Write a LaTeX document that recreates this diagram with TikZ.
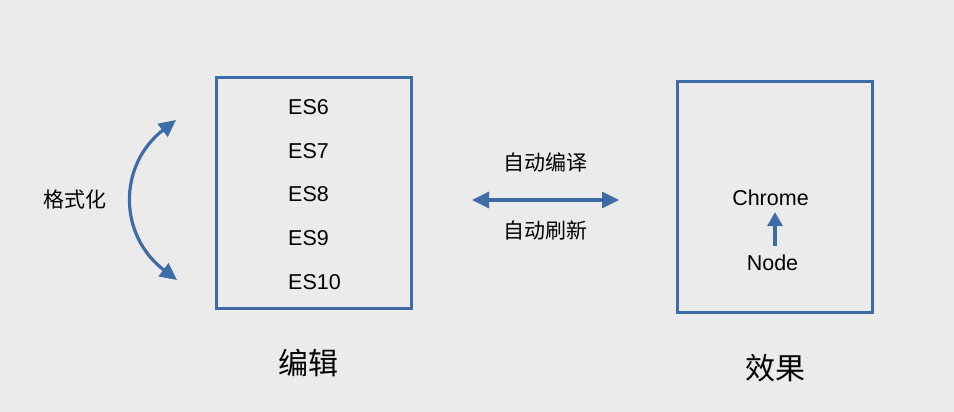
\documentclass[tikz,border=0pt]{standalone}
\usepackage{fontspec}
\setmainfont{Liberation Sans}
\newfontfamily\cjk{Noto Sans CJK SC}
\usetikzlibrary{arrows.meta}

\definecolor{boxblue}{HTML}{3E6CA8}
\definecolor{bggray}{HTML}{EBEBEB}

\begin{document}
\begin{tikzpicture}[x=1pt, y=-1pt,
    frame/.style={draw=boxblue, line width=3.2pt, minimum width=195pt, minimum height=231pt, inner sep=0pt},
    small/.style={font=\fontsize{21.5}{21.5}\selectfont, inner sep=0pt},
    big/.style={font=\cjk\fontsize{30}{30}\selectfont, inner sep=0pt},
    link/.style={draw=boxblue, line width=3.2pt, {Triangle[length=17pt,width=16pt]}-{Triangle[length=17pt,width=16pt]}}]
    \fill[bggray] (0,0) rectangle (954,412);
    \useasboundingbox (0,0) rectangle (954,412);

    % the two boxes
    \node[frame] (editor) at (314,193) {};
    \node[frame] (result) at (775,197) {};

    \foreach \v [count=\i] in {6,...,10}
        \node[small, anchor=west] (es\v) at (288,{107+43.75*(\i-1)}) {ES\v};

    \node[big] (editlabel) at (308,363) {编辑};
    \node[big] (resultlabel) at (775,368) {效果};

    % formatting arc
    \coordinate (fmtT) at (176,120);
    \coordinate (fmtB) at (177,280);
    \node[small, font=\cjk\fontsize{21}{21}\selectfont] (fmt) at (75,200) {格式化};
    \draw[link] (fmtT) .. controls (118,165) and (118,235) .. (fmtB);

    % compile / refresh
    \coordinate (syncL) at (472,200);
    \coordinate (syncR) at (619,200);
    \draw[link] (syncL) -- (syncR);
    \node[small, font=\cjk\fontsize{21}{21}\selectfont] (compile) at (545,162) {自动编译};
    \node[small, font=\cjk\fontsize{21}{21}\selectfont] (refresh) at (545,230) {自动刷新};

    % runtimes
    \node[small] (chrome) at (770.5,198) {Chrome};
    \node[small] (nodejs) at (772.5,263) {Node};
    \draw[draw=boxblue, line width=3.2pt, -{Triangle[length=14pt,width=15pt]}, shorten <=9pt, shorten >=6pt]
        (nodejs.north -| 775,0) -- (chrome.south -| 775,0);
\end{tikzpicture}
\end{document}
